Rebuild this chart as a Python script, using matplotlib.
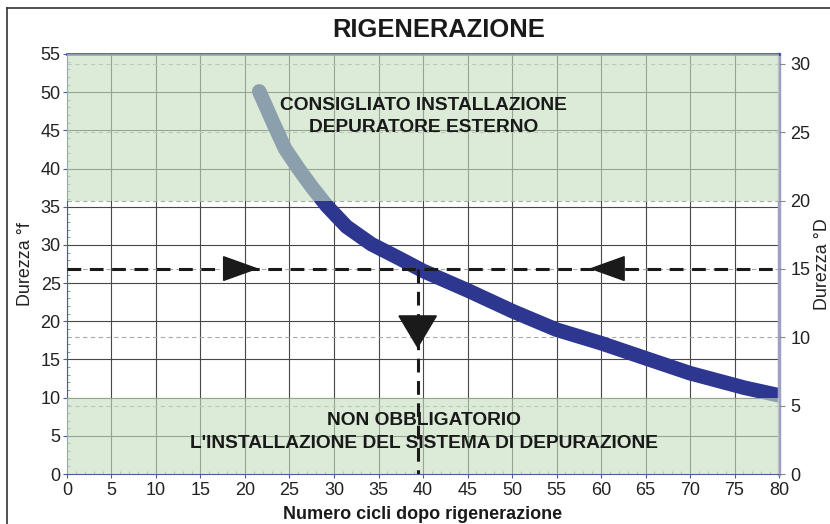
import matplotlib.pyplot as plt
from matplotlib.patches import Polygon
from matplotlib.lines import Line2D
from matplotlib.ticker import MultipleLocator

plt.rcParams['font.family'] = ['Liberation Sans', 'DejaVu Sans']

# curva durezza (°f) in funzione del numero di cicli
cicli = [21.6, 23.2, 24.5, 26.0, 27.5, 29.2, 31.4, 34.2, 37.4, 40.0, 45.1, 50.1,
         55.0, 60.1, 64.9, 70.0, 76.1, 80.0]
durezza_f = [50.1, 45.9, 42.6, 40.0, 37.6, 35.1, 32.4, 30.1, 28.2, 26.6, 24.0, 21.3,
             18.9, 17.1, 15.2, 13.2, 11.3, 10.3]

F_PER_D = 1.79          # fattore °f -> °D usato dal grafico
soglia_f = 26.9         # 15 °D
cicli_soglia = 39.4

zona_alta = (35.8, 55)  # consigliato depuratore
zona_bassa = (0, 10)    # non obbligatorio

frecce_dx = [17.6]      # base freccia verso destra
frecce_sx = [62.6]      # base freccia verso sinistra
freccia_giu = 20.7      # base freccia verso il basso

fig = plt.figure(figsize=(8.3, 5.24), dpi=100)
ax = fig.add_axes([0.0807, 0.0954, 0.8579, 0.8016])
ax.set_xlim(0, 80)
ax.set_ylim(0, 55)

# griglia
ax.xaxis.set_major_locator(MultipleLocator(5))
ax.yaxis.set_major_locator(MultipleLocator(5))
ax.xaxis.set_minor_locator(MultipleLocator(1))
ax.yaxis.set_minor_locator(MultipleLocator(1))
ax.grid(True, which='major', color='#474747', lw=0.8, zorder=1)
ax.set_axisbelow(True)
for d in range(5, 31, 5):
    ax.axhline(d * F_PER_D, color='#a8a8a8', lw=0.8, ls=(0, (4, 3)), zorder=1.5)

# curva
ax.plot(cicli, durezza_f, color='#2e3790', lw=10.5, solid_capstyle='round',
        solid_joinstyle='round', zorder=2)

# zone verdi sopra la curva (semi trasparenti)
ax.axhspan(*zona_alta, color='#c6e0c0', alpha=0.62, lw=0, zorder=3)
ax.axhspan(*zona_bassa, color='#c6e0c0', alpha=0.62, lw=0, zorder=3)

# linee tratteggiate di lettura
ax.plot([0, 80], [soglia_f, soglia_f], color='#1a1a1a', lw=2.2, ls=(0, (4.5, 2.8)), zorder=4)
ax.plot([cicli_soglia, cicli_soglia], [soglia_f, 0], color='#1a1a1a', lw=2.2,
        ls=(0, (4.5, 2.8)), zorder=4)

lung_x, semi_y = 3.7, 1.55
lung_y, semi_x = 4.1, 2.1
for b in frecce_dx:
    ax.add_patch(Polygon([[b, soglia_f - semi_y], [b, soglia_f + semi_y], [b + lung_x, soglia_f]],
                         closed=True, color='#1a1a1a', zorder=5))
for b in frecce_sx:
    ax.add_patch(Polygon([[b, soglia_f - semi_y], [b, soglia_f + semi_y], [b - lung_x, soglia_f]],
                         closed=True, color='#1a1a1a', zorder=5))
ax.add_patch(Polygon([[cicli_soglia - semi_x, freccia_giu], [cicli_soglia + semi_x, freccia_giu],
                      [cicli_soglia, freccia_giu - lung_y]], closed=True, color='#1a1a1a', zorder=5))

# testi
ax.text(40.1, 46.8, "CONSIGLIATO INSTALLAZIONE\nDEPURATORE ESTERNO", ha='center', va='center',
        fontsize=13.8, fontweight='bold', color='#1a1a1a', linespacing=1.4, zorder=6)
ax.text(40.1, 5.5, "NON OBBLIGATORIO\nL'INSTALLAZIONE DEL SISTEMA DI DEPURAZIONE", ha='center',
        va='center', fontsize=13.8, fontweight='bold', color='#1a1a1a', linespacing=1.4, zorder=6)

# assi
for s in ['left', 'bottom']:
    ax.spines[s].set_color('#4a5aa8')
    ax.spines[s].set_linewidth(0.8)
ax.spines['top'].set_color('#2e3790')
ax.spines['top'].set_linewidth(1.8)
ax.spines['right'].set_color('#a0a0c4')
ax.spines['right'].set_linewidth(2.5)
ax.tick_params(which='major', length=3, color='#4a5aa8', labelsize=13, labelcolor='#222222')
ax.tick_params(axis='y', which='major', pad=1.5)
ax.tick_params(axis='x', which='major', pad=3)
ax.tick_params(which='minor', direction='in', length=2.5, color='#7080c0', width=0.6)
ax.tick_params(axis='y', which='minor', right=False)
ax.set_ylabel("Durezza °f", fontsize=12.9, color='#222222', labelpad=5)
ax.set_xlabel("Numero cicli dopo rigenerazione", fontsize=13, fontweight='bold',
              color='#1a1a1a', labelpad=5)

ax2 = ax.twinx()
ax2.set_ylim(0, 55 / F_PER_D)
ax2.yaxis.set_major_locator(MultipleLocator(5))
ax2.tick_params(length=4, color='#888888', labelsize=13, labelcolor='#222222', pad=4)
for s in ax2.spines.values():
    s.set_visible(False)
ax2.set_ylabel("Durezza °D", fontsize=12.9, color='#222222', labelpad=3)

fig.text(0.529, 0.943, "RIGENERAZIONE", ha='center', va='center', fontsize=18.4,
         fontweight='bold', color='#1a1a1a')

# cornice esterna
fig.add_artist(Line2D([0.0085, 1.0], [0.985, 0.985], color='#333333', lw=1.2))
fig.add_artist(Line2D([0.0085, 0.0085], [0.0, 0.985], color='#333333', lw=1.2))

fig.savefig('out.png', dpi=100)
